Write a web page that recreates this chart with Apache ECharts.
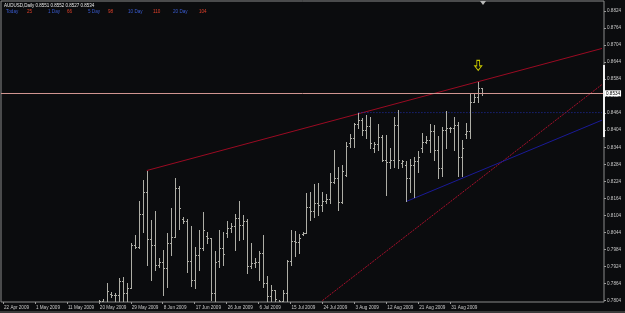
<!DOCTYPE html>
<html><head><meta charset="utf-8">
<script src="https://cdn.jsdelivr.net/npm/echarts@6/dist/echarts.min.js"></script>
<style>html,body{margin:0;padding:0;background:#0b0c0e;}#c{width:625px;height:313px;}</style>
</head><body><div id="c"></div><script>
// ---- bar dates (daily bars incl. Sunday sessions) ----
const aprDays=[22,23,24,26,27,28,29,30];
const mayDays=[1,3,4,5,6,7,8,10,11,12,13,14,15,17,18,19,20,21,22,24,25,26,27,28,29,31];
const junDays=[1,2,3,4,5,7,8,9,10,11,12,14,15,16,17,18,19,21,22,23,24,25,26,28,29,30];
const julDays=[1,2,3,5,6,7,8,9,10,12,13,14,15,16,17,19,20,21,22,23,24,26,27,28,29,30,31];
const augDays=[2,3,4,5,6,7,9,10,11,12,13,14,16,17,18,19,20,21,23,24,25,26,27,28,30,31];
const sepDays=[1,2,3,4,6,7,8,9];
const emptySlots=30;
// ---- axis tick labels ----
const dateTickLabels=['22 Apr 2009','1 May 2009','11 May 2009','20 May 2009','29 May 2009','8 Jun 2009','17 Jun 2009','26 Jun 2009','6 Jul 2009','15 Jul 2009','24 Jul 2009','3 Aug 2009','12 Aug 2009','21 Aug 2009','31 Aug 2009'];
const priceTickLabels=[0.7804,0.7864,0.7924,0.7984,0.8044,0.8104,0.8164,0.8224,0.8284,0.8344,0.8404,0.8464,0.8524,0.8584,0.8644,0.8704,0.8764,0.8824];
// ---- OHLC (first visible bar index) ----
const firstBar=24;
const opens=[.7795,.7803,.7798,.7826,.7822,.7825,.7874,.7830,.7850,.8000,.7994,.8109,.8186,.8020,.8000,.7930,.7941,.7919,.8006,.8027,.8200,.8090,.8085,.7944,.7877,.7965,.7989,.8030,.8024,.7830,.7942,.7990,.8041,.8060,.8065,.8094,.8070,.8085,.7926,.7935,.7941,.7971,.7865,.7820,.7840,.7800,.7802,.7830,.7942,.8015,.8010,.8038,.8042,.8132,.8120,.8147,.8140,.8155,.8160,.8221,.8235,.8151,.8247,.8360,.8378,.8425,.8440,.8405,.8420,.8340,.8355,.8380,.8300,.8292,.8300,.8422,.8290,.8280,.8235,.8280,.8294,.8340,.8364,.8370,.8400,.8335,.8270,.8405,.8411,.8410,.8422,.8311,.8391,.8400,.8505,.8520,.8551];
const highs=[.7807,.7808,.7866,.7833,.7830,.7883,.7887,.7866,.8008,.8035,.8153,.8229,.8262,.8088,.8120,.7953,.7983,.8041,.8129,.8235,.8206,.8100,.8092,.8065,.7994,.8053,.8115,.8047,.8024,.7977,.8053,.8047,.8086,.8077,.8109,.8153,.8106,.8091,.8006,.7953,.7977,.8035,.7889,.7860,.7843,.7806,.7840,.7947,.8053,.8050,.8038,.8045,.8182,.8188,.8214,.8217,.8188,.8180,.8253,.8335,.8276,.8282,.8364,.8390,.8429,.8464,.8446,.8456,.8449,.8364,.8425,.8388,.8388,.8341,.8452,.8476,.8300,.8294,.8302,.8311,.8332,.8394,.8384,.8425,.8423,.8382,.8417,.8470,.8417,.8452,.8434,.8370,.8429,.8534,.8534,.8575,.8552];
const lows=[.7790,.7790,.7795,.7816,.7798,.7795,.7795,.7795,.7848,.7989,.7989,.8047,.7928,.7877,.7912,.7924,.7824,.7852,.7965,.8027,.8057,.8077,.7903,.7856,.7848,.7912,.7983,.8006,.7807,.7798,.7924,.7930,.8027,.8047,.7983,.8018,.8020,.7901,.7918,.7924,.7877,.7853,.7797,.7797,.7797,.7795,.7800,.7800,.7930,.7960,.7971,.8035,.8041,.8088,.8100,.8106,.8118,.8147,.8147,.8217,.8124,.8147,.8241,.8346,.8346,.8411,.8388,.8376,.8343,.8329,.8335,.8294,.8176,.8270,.8274,.8270,.8276,.8153,.8188,.8170,.8258,.8329,.8358,.8329,.8300,.8235,.8241,.8341,.8399,.8335,.8241,.8241,.8376,.8376,.8505,.8505,.8527];
const closes=[.7803,.7798,.7838,.7822,.7825,.7874,.7830,.7850,.8000,.7994,.8109,.8186,.8020,.8000,.7930,.7941,.7919,.8006,.8027,.8200,.8129,.8085,.7944,.7877,.7965,.7989,.8053,.8024,.7830,.7940,.7990,.7969,.8060,.8065,.8094,.8070,.8085,.7926,.7935,.7941,.7971,.7865,.7820,.7840,.7810,.7802,.7830,.7942,.8015,.8010,.8026,.8042,.8132,.8120,.8147,.8140,.8155,.8160,.8221,.8235,.8150,.8260,.8350,.8378,.8425,.8440,.8405,.8420,.8360,.8355,.8380,.8300,.8292,.8300,.8422,.8300,.8295,.8235,.8280,.8294,.8311,.8364,.8370,.8400,.8335,.8270,.8405,.8411,.8410,.8422,.8311,.8341,.8400,.8505,.8520,.8551,.8534];
// ---- drawn objects (anchors: [bar index, price]) ----
const resistanceLine=[[36,0.8262],[119,0.8575]];
const channelLine=[[80,0.7804],[150,0.8565]];
const supportLine=[[101,0.8153],[114,0.8229]];
const levelLine=[[89,0.8466],[150,0.8466]];
const signalArrow=[119,0.8632];
const bidPrice=0.8534;
const header='AUDUSD,Daily 0.8551 0.8552 0.8527 0.8534';
const rangeLabels=['Today','1 Day','5 Day','10 Day','20 Day'];
const rangeValues=['25','66','98','110','104'];

const categories=[];
[['Apr',aprDays],['May',mayDays],['Jun',junDays],['Jul',julDays],['Aug',augDays],['Sep',sepDays]].forEach(([m,ds])=>ds.forEach(d=>categories.push(d+' '+m+' 2009')));
for(let k=0;k<emptySlots;k++) categories.push('~'+k);
const lastIdx=categories.length-1;

const ohlc=opens.map((o,i)=>[firstBar+i,o,highs[i],lows[i],closes[i]]);
function extend(a){const [p,q]=a;const s=(q[1]-p[1])/(q[0]-p[0]);return [p,[lastIdx,p[1]+s*(lastIdx-p[0])]];}

const barColor='#aeaea6';
const FONT='"Liberation Sans"';
const chart=echarts.init(document.getElementById('c'),null,{renderer:'canvas'});
const rangeX=[6,48,88,128,173], valX=[27,67,108,153,199];
const graphics=[{type:'text',left:4,top:3,style:{text:header,fill:'#e8e8e8',font:'4.5px '+FONT}}];
rangeLabels.forEach((t,i)=>{graphics.push({type:'text',left:rangeX[i],top:9,style:{text:t,fill:'#3a5cd0',font:'4.6px '+FONT}});graphics.push({type:'text',left:valX[i],top:9,style:{text:rangeValues[i],fill:'#e0402a',font:'4.6px '+FONT}});});
graphics.push({type:'rect',left:0,top:311,shape:{width:625,height:2},style:{fill:'#3a3a3a'}});
graphics.push({type:'rect',left:603,top:65,shape:{width:2,height:72},style:{fill:'#f0f0f0'},z:10});
graphics.push({type:'polygon',shape:{points:[[480,1],[486,1],[483,5]]},style:{fill:'#b8b8b8'},z:10});

chart.setOption({
  backgroundColor:'#0b0c0e',
  animation:false,
  grid:{left:1,right:21,top:1,bottom:11,show:true,borderColor:'#8a8a8a',borderWidth:1},
  graphic:graphics,
  xAxis:{type:'category',data:categories,boundaryGap:true,
    axisLine:{show:false},
    axisTick:{show:true,alignWithLabel:true,length:2,lineStyle:{color:'#9a9a9a'},interval:(i,v)=>dateTickLabels.includes(v)},
    axisLabel:{interval:(i,v)=>dateTickLabels.includes(v),color:'#c8c8c8',fontSize:4.6,fontFamily:'Liberation Sans',align:'left',margin:3,padding:[0,0,0,1]},
    splitLine:{show:false}},
  yAxis:{type:'value',position:'right',min:0.7799,max:0.8859,scale:true,
    axisLine:{show:false},
    axisTick:{show:true,length:2,lineStyle:{color:'#9a9a9a'},customValues:priceTickLabels},
    axisLabel:{color:'#c8c8c8',fontSize:4.6,fontFamily:'Liberation Sans',margin:3,customValues:priceTickLabels,formatter:v=>v.toFixed(4)},
    splitLine:{show:false}},
  series:[
    {type:'custom',data:ohlc,clip:true,encode:{x:0,y:[1,2,3,4]},z:3,
     renderItem:function(params,api){
       const i=api.value(0);
       const ph=api.coord([i,api.value(2)]),pl=api.coord([i,api.value(3)]);
       const po=api.coord([i,api.value(1)]),pc=api.coord([i,api.value(4)]);
       const X=Math.round(ph[0])+0.5;
       const yo=Math.round(po[1])+0.5,yc=Math.round(pc[1])+0.5;
       const st={stroke:barColor,lineWidth:1};
       return {type:'group',children:[
         {type:'line',shape:{x1:X,y1:Math.round(ph[1]),x2:X,y2:Math.round(pl[1])+1},style:st},
         {type:'line',shape:{x1:X-1.5,y1:yo,x2:X,y2:yo},style:st},
         {type:'line',shape:{x1:X,y1:yc,x2:X+1.5,y2:yc},style:st}
       ]};
     }},
    {type:'line',data:extend(resistanceLine),symbol:'none',z:2,lineStyle:{color:'#9a0a22',width:1},
     markLine:{silent:true,symbol:'none',precision:4,data:[{yAxis:bidPrice}],lineStyle:{color:'#d09590',type:'solid',width:1},
       label:{position:'end',formatter:()=>bidPrice.toFixed(4),backgroundColor:'#ffffff',color:'#000',fontSize:4.6,fontFamily:'Liberation Sans',padding:[1,1,0,1],distance:1}},
     markPoint:{silent:true,data:[{coord:signalArrow,symbol:'path://M3,0 L7,0 L7,6 L10,6 L5,11 L0,6 L3,6 Z',symbolSize:[7,10],itemStyle:{color:'rgba(0,0,0,0)',borderColor:'#c8c800',borderWidth:1},label:{show:false}}]}},
    {type:'line',data:extend(channelLine),symbol:'none',z:2,lineStyle:{color:'#a8102c',width:1,type:[2,1]}},
    {type:'line',data:extend(supportLine),symbol:'none',z:2,lineStyle:{color:'#1a1a96',width:1}},
    {type:'line',data:levelLine,symbol:'none',z:2,lineStyle:{color:'#2030b0',width:1,type:[1,2]}}
  ]
});
</script></body></html>
